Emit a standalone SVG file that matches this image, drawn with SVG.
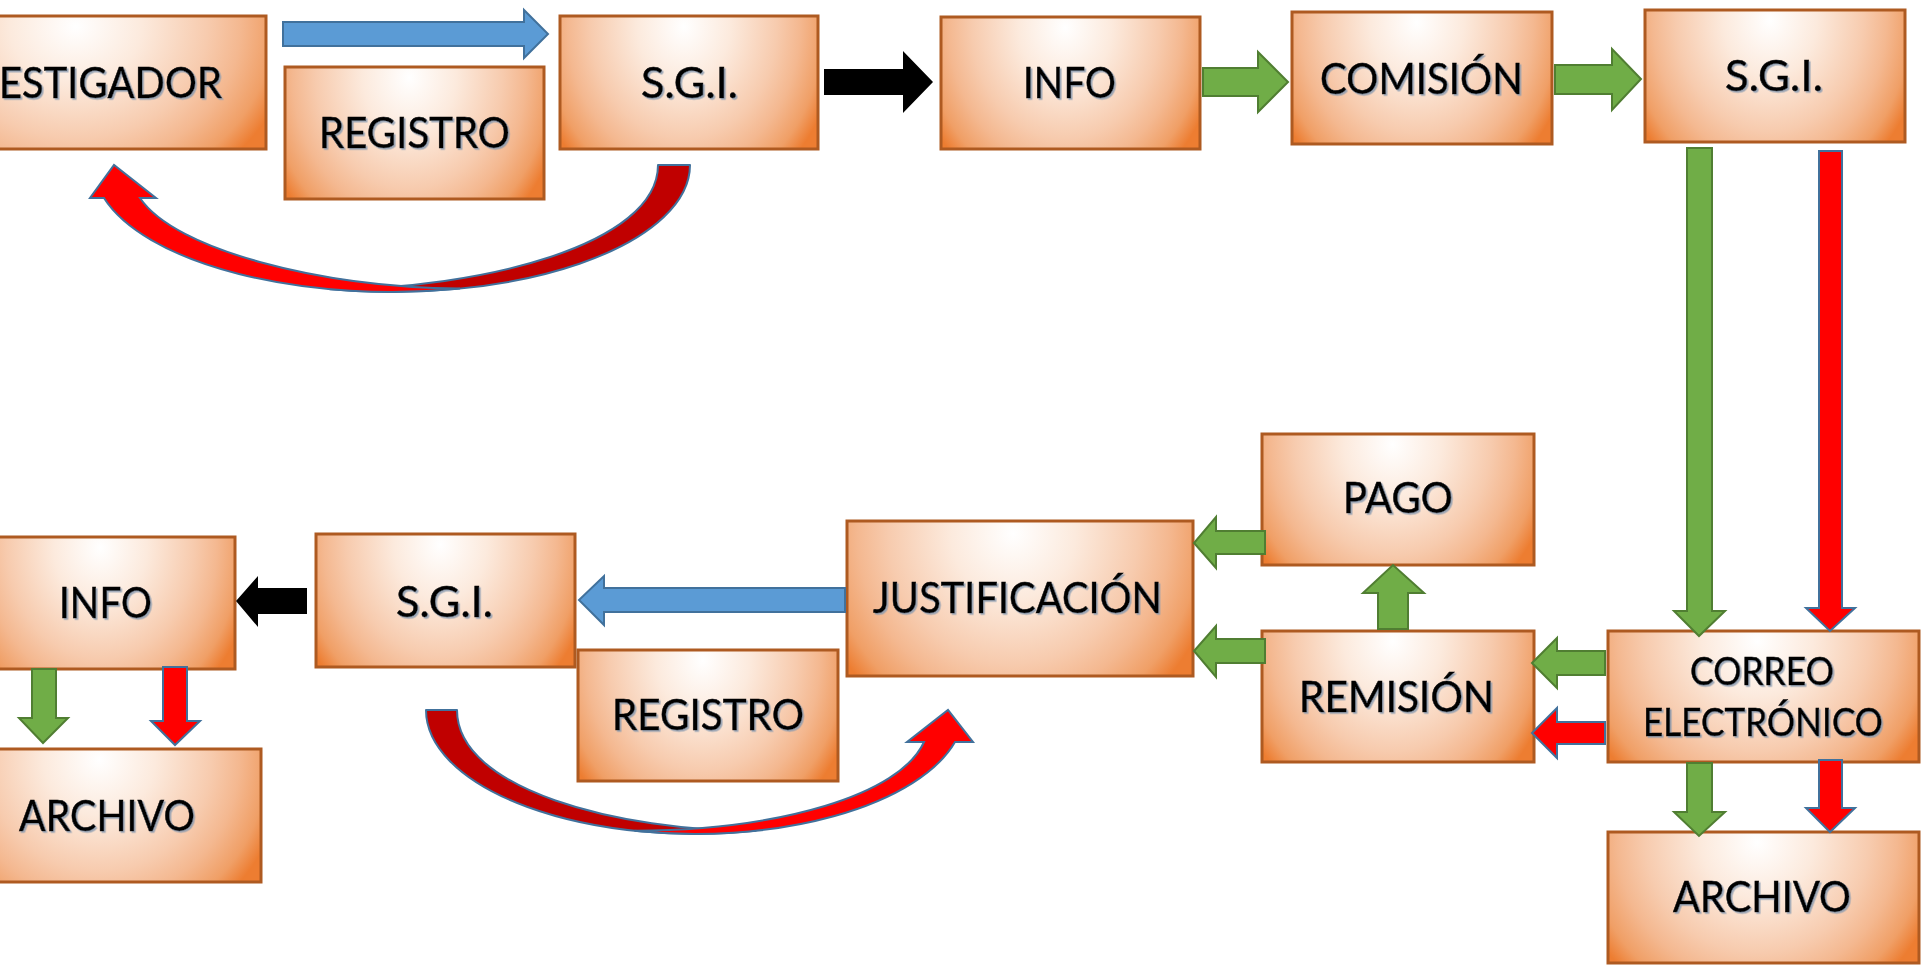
<svg xmlns="http://www.w3.org/2000/svg" width="1921" height="969" viewBox="0 0 1921 969">
  <defs>
    <radialGradient id="boxGrad" cx="0.48" cy="0.08" r="0.5" gradientTransform="translate(0.48,0.08) scale(1.2,2.8) translate(-0.48,-0.08)">
      <stop offset="0" stop-color="#FFFFFF"/>
      <stop offset="0.3" stop-color="#FCEADD"/>
      <stop offset="0.6" stop-color="#F7CBAE"/>
      <stop offset="0.75" stop-color="#F4B890"/>
      <stop offset="0.9" stop-color="#F09F66"/>
      <stop offset="1" stop-color="#ED7D31"/>
    </radialGradient>
    <filter id="txtShadow" x="-5%" y="-20%" width="110%" height="140%">
      <feDropShadow dx="1.6" dy="1.6" stdDeviation="0.6" flood-color="#8A9BB0" flood-opacity="0.85"/>
    </filter>
  </defs>
  <style>
    .box { fill: url(#boxGrad); stroke: #AE5A21; stroke-width: 3; }
    .lbl { font-family: "Lato", "Open Sans", sans-serif; font-size: 42px; fill: #000000; stroke: #000000; stroke-width: 0.5; filter: url(#txtShadow); }
    .sm { font-size: 38px; }
    .blue { fill: #5B9BD5; stroke: #41719C; stroke-width: 2; stroke-linejoin: miter; }
    .green { fill: #70AD47; stroke: #507E32; stroke-width: 2; stroke-linejoin: miter; }
    .red { fill: #FF0000; stroke: #41719C; stroke-width: 2; stroke-linejoin: miter; }
    .dark { fill: #C00000; stroke: #41719C; stroke-width: 2; stroke-linejoin: round; }
    .curv { fill: #FF0000; stroke: #41719C; stroke-width: 2; stroke-linejoin: miter; }
    .black { fill: #000000; }
  </style>
  <rect x="0" y="0" width="1921" height="969" fill="#FFFFFF"/>

  <g id="node-investigador">
    <rect class="box" x="-100" y="16" width="366" height="133"/>
    <text class="lbl" x="-1" y="98" textLength="223" lengthAdjust="spacingAndGlyphs">ESTIGADOR</text>
  </g>
  <g id="node-registro-top">
    <rect class="box" x="285" y="67" width="259" height="132"/>
    <text class="lbl" x="319" y="148" textLength="191" lengthAdjust="spacingAndGlyphs">REGISTRO</text>
  </g>
  <g id="node-sgi-1">
    <rect class="box" x="560" y="16" width="258" height="133"/>
    <text class="lbl" x="641" y="98" textLength="97" lengthAdjust="spacingAndGlyphs">S.G.I.</text>
  </g>
  <g id="node-info-top">
    <rect class="box" x="941" y="17" width="259" height="132"/>
    <text class="lbl" x="1023" y="98" textLength="93" lengthAdjust="spacingAndGlyphs">INFO</text>
  </g>
  <g id="node-comision">
    <rect class="box" x="1292" y="12" width="260" height="132"/>
    <text class="lbl" x="1320" y="94" textLength="203" lengthAdjust="spacingAndGlyphs">COMISIÓN</text>
  </g>
  <g id="node-sgi-2">
    <rect class="box" x="1645" y="10" width="260" height="132"/>
    <text class="lbl" x="1725" y="91" textLength="98" lengthAdjust="spacingAndGlyphs">S.G.I.</text>
  </g>
  <g id="node-correo">
    <rect class="box" x="1608" y="631" width="311" height="131"/>
    <text class="lbl sm" x="1690" y="685" textLength="144" lengthAdjust="spacingAndGlyphs">CORREO</text>
    <text class="lbl sm" x="1643" y="736" textLength="240" lengthAdjust="spacingAndGlyphs">ELECTRÓNICO</text>
  </g>
  <g id="node-archivo-right">
    <rect class="box" x="1608" y="832" width="311" height="131"/>
    <text class="lbl" x="1673" y="912" textLength="178" lengthAdjust="spacingAndGlyphs">ARCHIVO</text>
  </g>
  <g id="node-remision">
    <rect class="box" x="1262" y="631" width="272" height="131"/>
    <text class="lbl" x="1299" y="712" textLength="195" lengthAdjust="spacingAndGlyphs">REMISIÓN</text>
  </g>
  <g id="node-pago">
    <rect class="box" x="1262" y="434" width="272" height="131"/>
    <text class="lbl" x="1343" y="513" textLength="110" lengthAdjust="spacingAndGlyphs">PAGO</text>
  </g>
  <g id="node-justificacion">
    <rect class="box" x="847" y="521" width="346" height="155"/>
    <text class="lbl" x="873" y="613" textLength="289" lengthAdjust="spacingAndGlyphs">JUSTIFICACIÓN</text>
  </g>
  <g id="node-sgi-3">
    <rect class="box" x="316" y="534" width="259" height="133"/>
    <text class="lbl" x="396" y="617" textLength="97" lengthAdjust="spacingAndGlyphs">S.G.I.</text>
  </g>
  <g id="node-registro-bottom">
    <rect class="box" x="578" y="650" width="260" height="131"/>
    <text class="lbl" x="612" y="730" textLength="192" lengthAdjust="spacingAndGlyphs">REGISTRO</text>
  </g>
  <g id="node-info-bottom">
    <rect class="box" x="-24" y="537" width="259" height="132"/>
    <text class="lbl" x="59" y="618" textLength="93" lengthAdjust="spacingAndGlyphs">INFO</text>
  </g>
  <g id="node-archivo-left">
    <rect class="box" x="-50" y="749" width="311" height="133"/>
    <text class="lbl" x="19" y="831" textLength="176" lengthAdjust="spacingAndGlyphs">ARCHIVO</text>
  </g>

  <g id="connectors">
    <!-- top row -->
    <polygon class="blue" points="283,22 524,22 524,10 548,34 524,58 524,46 283,46"/>
    <polygon class="black" points="824,69 903,69 903,51 933,82 903,113 903,95 824,95"/>
    <polygon class="green" points="1203,68 1258,68 1258,52 1288,82 1258,112 1258,96 1203,96"/>
    <polygon class="green" points="1555,65 1612,65 1612,49 1641,79 1612,110 1612,94 1555,94"/>
    <!-- top curved return arrow -->
    <path class="dark" d="M 690 165 A 298 127 0 0 1 330 289.2 C 480 289 658 245 658 165 Z"/>
    <path class="curv" d="M 460 288.6 A 298 127 0 0 1 104 198 L 90 198 L 114 165 L 156 198 L 140 198 C 175 250 320 287 460 288.6 Z"/>
    <!-- long verticals -->
    <polygon class="green" points="1687,148 1712,148 1712,611 1725,611 1699,636 1674,611 1687,611"/>
    <polygon class="red" points="1819,151 1842,151 1842,608 1855,608 1830,631 1806,608 1819,608"/>
    <!-- correo to archivo -->
    <polygon class="green" points="1687,763 1712,763 1712,812 1725,812 1699,836 1674,812 1687,812"/>
    <polygon class="red" points="1819,760 1842,760 1842,808 1855,808 1830,832 1806,808 1819,808"/>
    <!-- correo to remision -->
    <polygon class="green" points="1605,651 1557,651 1557,638 1532,663 1557,688 1557,675 1605,675"/>
    <polygon class="red" points="1605,722 1557,722 1557,708 1532,733 1557,758 1557,744 1605,744"/>
    <!-- remision to pago -->
    <polygon class="green" points="1378,629 1378,593 1363,593 1393,565 1424,593 1408,593 1408,629"/>
    <!-- pago / remision to justificacion -->
    <polygon class="green" points="1265,531 1216,531 1216,517 1194,543 1216,568 1216,554 1265,554"/>
    <polygon class="green" points="1265,639 1216,639 1216,626 1194,651 1216,677 1216,663 1265,663"/>
    <!-- justificacion to sgi -->
    <polygon class="blue" points="845,588 604,588 604,576 579,600 604,625 604,612 845,612"/>
    <!-- sgi to info -->
    <polygon class="black" points="307,588 258,588 258,576 236,601 258,627 258,614 307,614"/>
    <!-- info to archivo -->
    <polygon class="green" points="32,669 56,669 56,718 68,718 43,743 19,718 32,718"/>
    <polygon class="red" points="163,667 187,667 187,721 200,721 175,745 151,721 163,721"/>
    <!-- bottom curved arrow -->
    <path class="dark" d="M 426 710 A 269 124 0 0 0 755.5 830.8 C 620 831 457 790 457 710 Z"/>
    <path class="curv" d="M 634.5 830.8 A 269 124 0 0 0 955 742 L 973 742 L 948 710 L 907 742 L 924 742 C 900 795 780 830 634.5 830.8 Z"/>
  </g>
</svg>
